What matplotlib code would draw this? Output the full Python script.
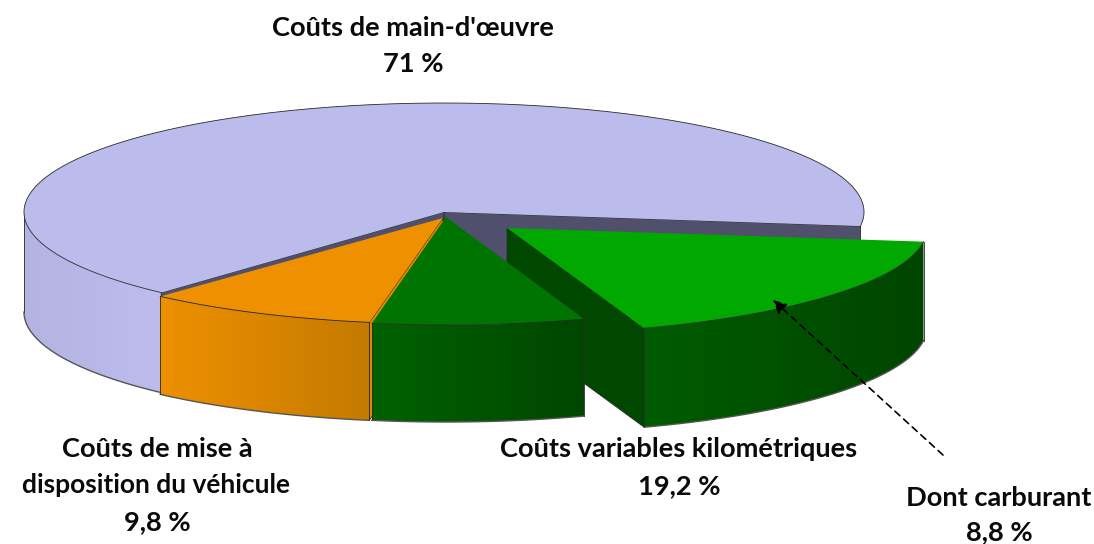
"""Exploded 3D pie of vehicle running costs, drawn as projected polygons."""

import numpy as np
import matplotlib
matplotlib.use("Agg")
import matplotlib.pyplot as plt
from matplotlib.colors import to_rgb
from matplotlib.patches import Polygon

plt.rcParams["font.family"] = ["Lato", "DejaVu Sans"]

# Slice shares as drawn in the picture (%), which differ from the printed ones
slice_names = ["main_oeuvre", "mise_a_disposition", "variables", "carburant"]
drawn_shares = [65.3, 8.95, 8.1, 17.65]
printed_labels = ["71 %", "9,8 %", "19,2 %", "8,8 %"]
START_ANGLE = -7.4

# Per-slice layout: apex x, apex y, x radius, y radius, wall height
LAYOUT = {
    "main_oeuvre": (444, 212, 420, 109, 100),
    "mise_a_disposition": (443, 218, 420, 106, 98),
    "variables": (446, 217, 423, 108, 97),
    "carburant": (507, 228, 420, 106, 99),
}
# top colour, cut wall colour, outer wall colour at left and right
COLORS = {
    "main_oeuvre": ("#bbbbec", "#50506c", "#b4b4e2", "#bcbcee"),
    "mise_a_disposition": ("#ee9000", "#e08a00", "#ee9000", "#c47a00"),
    "variables": ("#007400", "#004a00", "#006200", "#004600"),
    "carburant": ("#00a800", "#004800", "#005c00", "#004500"),
}
EDGE = "#2a2a2a"


def rim(name, angles):
    x0, y0, rx, ry, _ = LAYOUT[name]
    rad = np.radians(angles)
    return x0 + rx * np.cos(rad), y0 - ry * np.sin(rad)


def draw_cut_wall(ax, name, angle):
    x0, y0, _, _, h = LAYOUT[name]
    x, y = rim(name, np.array([angle]))
    pts = [(x0, y0), (x[0], y[0]), (x[0], y[0] + h), (x0, y0 + h)]
    ax.add_patch(Polygon(pts, fc=COLORS[name][1], ec=EDGE, lw=0.6, zorder=1))


def draw_outer_wall(ax, name, a0, a1):
    # only the part of the rim turned towards the viewer
    a0, a1 = max(a0, 180), min(a1, 360)
    if a1 <= a0:
        return
    h = LAYOUT[name][4]
    x, y = rim(name, np.linspace(a0, a1, 120))
    left, right = np.array(to_rgb(COLORS[name][2])), np.array(to_rgb(COLORS[name][3]))
    t = np.linspace(0, 1, 256)[None, :, None]
    gradient = (1 - t) * left + t * right
    im = ax.imshow(gradient, extent=[x[0], x[-1], y.max() + h, y.min()],
                   aspect="auto", zorder=1, interpolation="bilinear")
    pts = list(zip(x, y)) + list(zip(x[::-1], y[::-1] + h))
    im.set_clip_path(Polygon(pts, transform=ax.transData))
    ax.plot(x, y + h, color="#555555", lw=1.0, zorder=1)
    ax.plot([x[0], x[0]], [y[0], y[0] + h], color=EDGE, lw=0.6, zorder=1)
    ax.plot([x[-1], x[-1]], [y[-1], y[-1] + h], color=EDGE, lw=0.6, zorder=1)


def draw_top(ax, name, a0, a1):
    x0, y0 = LAYOUT[name][:2]
    x, y = rim(name, np.linspace(a0, a1, 240))
    pts = [(x0, y0)] + list(zip(x, y))
    ax.add_patch(Polygon(pts, fc=COLORS[name][0], ec="none", zorder=1))
    ax.plot(x, y, color=EDGE, lw=0.6, zorder=1)


fig = plt.figure(figsize=(10.94, 5.44), dpi=100)
ax = fig.add_axes([0, 0, 1, 1])
ax.axis("off")

edges = START_ANGLE + np.cumsum([0] + drawn_shares) * 3.6
spans = {n: (edges[i], edges[i + 1]) for i, n in enumerate(slice_names)}

# Painter's order: the back slice first, the exploded slice before its neighbour
a0, a1 = spans["main_oeuvre"]
draw_outer_wall(ax, "main_oeuvre", a0, a1)
draw_cut_wall(ax, "main_oeuvre", a0)
draw_cut_wall(ax, "main_oeuvre", a1)
draw_top(ax, "main_oeuvre", a0, a1)

a0, a1 = spans["mise_a_disposition"]
draw_cut_wall(ax, "mise_a_disposition", a1)
draw_outer_wall(ax, "mise_a_disposition", a0, a1)
draw_top(ax, "mise_a_disposition", a0, a1)

a0, a1 = spans["carburant"]
draw_cut_wall(ax, "carburant", a0)
draw_outer_wall(ax, "carburant", a0, a1)
draw_top(ax, "carburant", a0, a1)

a0, a1 = spans["variables"]
draw_outer_wall(ax, "variables", a0, a1)
draw_top(ax, "variables", a0, a1)

text_kw = dict(ha="center", va="center", fontsize=19.6, fontweight="bold", color="#0a0a0a")
ax.text(413, 28, "Coûts de main-d'œuvre", **text_kw)
ax.text(413, 64, printed_labels[0], **text_kw)
ax.text(157, 449, "Coûts de mise à", **text_kw)
ax.text(156, 485, "disposition du véhicule", **{**text_kw, "fontsize": 19})
ax.text(157, 522, printed_labels[1], **text_kw)
ax.text(679, 449, "Coûts variables kilométriques", **text_kw)
ax.text(679, 486, printed_labels[2], **text_kw)
ax.text(999, 498, "Dont carburant", **text_kw)
ax.text(999, 532, printed_labels[3], **text_kw)

ax.annotate(
    "", xy=(773, 300), xytext=(943, 455),
    arrowprops=dict(arrowstyle="-|>", linestyle=(0, (4, 3)), color="black",
                    lw=1.2, mutation_scale=20, shrinkA=0, shrinkB=0),
)

ax.set_xlim(0, 1094)
ax.set_ylim(544, 0)

fig.savefig("out.png", dpi=100)
